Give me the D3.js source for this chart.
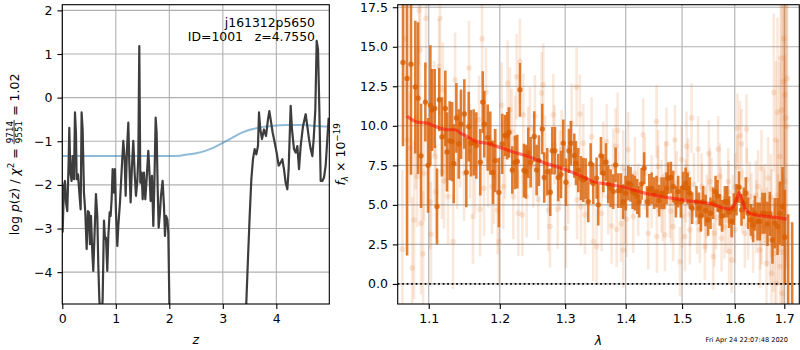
<!DOCTYPE html>
<html>
<head>
<meta charset="utf-8">
<script src="https://cdn.jsdelivr.net/npm/d3@7"></script>
<style>
  body { margin: 0; background: #fff; }
  svg { display: block; font-family: "DejaVu Sans", sans-serif; }
  .pre { white-space: pre; }
</style>
</head>
<body>
<svg id="fig" width="800" height="350"></svg>
<script>
// ---------- redshift probability panel ----------
const zTicks = [0, 1, 2, 3, 4];
const logPTicks = [-4, -3, -2, -1, 0, 1, 2];

// log p(z) from the fit (drops far below the axis between z~2 and z~3.4)
const pzZ = [0.006,0.031,0.050,0.069,0.093,0.118,0.131,0.150,0.174,0.193,0.218,0.237,0.255,0.268,0.293,0.318,0.343,0.361,0.380,0.405,
  0.430,0.455,0.480,0.498,0.517,0.536,0.561,0.579,0.604,0.629,0.654,0.673,0.692,0.710,0.735,0.754,0.779,0.798,0.816,0.841,
  0.860,0.885,0.903,0.922,0.941,0.966,0.984,1.003,1.028,1.047,1.078,1.109,1.140,1.165,1.184,1.209,1.234,1.252,1.277,1.302,
  1.327,1.352,1.377,1.402,1.421,1.439,1.458,1.483,1.502,1.526,1.551,1.576,1.607,1.626,1.651,1.676,1.701,1.720,1.745,1.763,
  1.782,1.801,1.826,1.844,1.875,1.900,1.919,1.938,1.963,1.981,2.000,2.006,
  3.421,3.439,3.470,3.502,3.533,3.564,3.595,3.626,3.657,3.676,3.701,3.732,3.769,3.807,3.844,3.869,3.894,3.931,3.969,4.006,
  4.044,4.081,4.112,4.143,4.174,4.206,4.230,4.268,4.293,4.330,4.361,4.393,4.424,4.455,4.499,4.548,4.579,4.611,4.642,4.673,
  4.698,4.729,4.754,4.779,4.804,4.829,4.860,4.891,4.922,4.953,4.978];
const pzLog = [-3.09,-2.02,-1.91,-2.40,-2.60,-1.49,-0.69,-1.72,-1.91,-1.34,-1.87,-0.34,-0.80,-1.87,-1.76,-2.18,-2.56,-0.34,-0.73,-2.18,
  -2.63,-3.47,-2.60,-2.63,-3.36,-2.71,-3.55,-3.97,-3.09,-2.21,-2.71,-3.85,-4.62,-4.92,-5.08,-4.62,-2.82,-3.24,-3.21,-3.97,
  -3.17,-2.63,-2.71,-2.33,-1.64,-2.18,-1.64,-2.63,-3.40,-2.94,-2.40,-1.68,-0.99,-1.41,-2.25,-1.18,-0.57,-1.49,-2.40,-1.56,
  -0.99,-1.72,-2.25,-1.91,-1.34,1.18,-1.95,-1.72,-2.33,-1.72,-2.33,-1.87,-1.22,-1.64,-2.37,-1.79,-2.94,-2.02,-0.46,-0.80,
  -2.06,-2.98,-2.63,-2.25,-1.91,-2.48,-3.17,-2.71,-2.79,-3.09,-4.62,-6.10,
  -6.10,-4.69,-3.70,-2.71,-1.87,-1.41,-1.18,-1.30,-1.11,-0.34,-0.73,-0.95,-0.73,-0.88,-0.50,-0.31,-0.50,-0.80,-1.03,-1.26,
  -1.56,-1.49,-1.41,-1.64,-1.95,-2.10,-1.64,-0.19,-0.73,-1.18,-1.26,-1.11,-1.64,-1.11,-0.65,-0.38,-0.65,-0.95,-1.18,-1.34,
  -0.95,-0.27,1.30,1.11,-0.27,-1.91,-1.91,-1.83,-1.56,-0.95,-0.46];

// prior curve
const priorZ = [0,0.5,1.0,1.5,2.0,2.2,2.36,2.52,2.67,2.82,2.98,3.13,3.29,3.45,3.60,3.75,3.91,4.22,4.5,4.75,4.99];
const priorLog = [-1.34,-1.34,-1.34,-1.34,-1.34,-1.33,-1.30,-1.27,-1.22,-1.15,-1.05,-0.95,-0.84,-0.76,-0.71,-0.67,-0.65,-0.63,-0.63,-0.65,-0.67];

// ---------- spectrum panel ----------
const waveTicks = [1.1, 1.2, 1.3, 1.4, 1.5, 1.6, 1.7];
const fluxTicks = [0, 2.5, 5, 7.5, 10, 12.5, 15, 17.5];

// binned spectrum
const binWave = [1.0659,1.0712,1.0764,1.0821,1.0857,1.0897,1.0955,1.0991,1.1022,1.1045,1.1081,1.1112,1.1143,1.1180,1.1226,1.1249,1.1286,1.1319,1.1342,1.1379,
  1.1412,1.1444,1.1490,1.1518,1.1552,1.1584,1.1623,1.1660,1.1717,1.1752,1.1775,1.1824,1.1861,1.1900,1.1934,
  1.1987,1.2036,1.2076,1.2110,1.2135,1.2185,1.2225,1.2260,1.2300,1.2360,1.2390,1.2425,1.2462,1.2517,1.2553,1.2589,1.2640,1.2671,1.2718,1.2765,
  1.2796,1.2838,1.2890,1.2933,1.2970,1.3012,1.3060,1.3092,1.3146,1.3173,1.3210,1.3253,1.3291,1.3330,1.3372,1.3412,1.3454,
  1.3510,1.3537,1.3582,1.3621,1.3665,1.3704,1.3744,1.3788,1.3828,1.3873,1.3918,1.3957,1.3998,1.4043,1.4084,1.4119,1.4159,1.4198,1.4233,1.4275,
  1.4320,1.4373,1.4409,1.4451,1.4497,1.4539,1.4586,1.4628,1.4675,1.4718,1.4747,1.4796,1.4838,1.4887,1.4929,1.4978,1.5020,1.5065,1.5102,1.5144,1.5187,
  1.5267,1.5311,1.5349,1.5393,1.5438,1.5487,1.5532,1.5582,1.5628,1.5666,1.5710,1.5755,1.5807,1.5852,1.5891,1.5937,1.5982,1.6034,1.6085,1.6132,
  1.6178,1.6218,1.6264,1.6318,1.6363,1.6398,1.6452,1.6498,1.6553,1.6600,1.6654,1.6701,1.6756,1.6804,1.6860,1.6907,1.6963,1.7011,1.7080,1.7164];
const binFlux = [14.0,13.0,13.9,12.45,11.75,8.1,11.5,7.5,11.3,11.0,11.1,4.9,11.65,9.3,11.1,8.35,9.05,9.0,7.6,10.5,
  8.85,10.1,10.75,7.05,9.95,8.9,8.95,8.75,7.7,11.5,10.1,9.25,8.9,7.05,7.8,
  5.78,8.86,9.39,9.37,9.58,7.2,7.68,7.74,12.28,7.17,7.1,8.3,7.7,9.32,7.2,7.8,9.8,6.73,7.1,5.8,
  8.42,8.42,6.73,6.92,8.9,6.43,8.42,8.9,8.12,7.64,7.2,6.69,6.58,6.65,5.2,7.6,6.35,
  6.69,5.0,8.1,7.0,7.7,6.3,6.05,5.84,7.53,5.9,5.9,5.2,5.74,6.37,6.3,5.84,5.74,5.53,5.2,6.33,
  7.32,5.2,5.95,6.05,5.74,5.84,5.27,5.74,5.74,6.05,6.69,6.73,6.16,5.2,5.84,5.2,6.1,6.37,6.05,5.74,4.79,
  5.2,4.79,4.32,5.2,4.64,4.05,4.47,5.1,5.84,5.57,4.68,4.3,5.2,5.2,4.54,3.95,4.73,5.32,6.12,4.68,
  5.1,5.74,4.47,4.05,3.73,4.47,3.95,3.95,4.47,4.47,3.8,4.43,2.78,3.84,3.63,4.47,4.9,2.95,-1.6,-1.6];
const binErr = [5.3,11.2,7.0,4.2,4.8,3.3,2.5,3.0,3.8,2.6,2.5,2.4,2.0,2.5,2.4,2.5,2.5,2.5,2.5,2.2,
  2.2,2.2,2.2,2.2,2.2,2.1,2.1,2.1,2.1,1.95,2.1,2.1,2.0,2.0,2.0,
  2.2,1.9,1.3,1.5,1.6,1.5,1.7,1.7,1.7,1.7,1.7,1.6,1.6,1.6,1.6,1.6,1.6,1.6,1.5,1.5,
  1.5,1.5,1.5,1.5,1.5,1.5,1.4,1.4,1.4,1.4,1.4,1.4,1.4,1.3,1.3,1.3,1.3,
  1.3,1.3,1.2,1.2,1.2,1.2,1.2,1.1,1.1,1.1,1.1,1.1,1.1,1.1,1.1,1.1,1.1,1.1,1.0,1.0,
  1.0,1.0,1.0,1.0,1.0,1.0,1.0,1.0,1.0,1.0,1.0,1.0,1.0,1.0,1.0,1.0,1.0,1.0,1.0,1.0,1.0,
  1.0,1.0,1.0,1.0,1.0,1.0,1.0,1.0,1.0,1.0,1.0,1.0,1.0,1.0,1.0,1.0,1.0,1.0,1.0,1.0,
  1.0,1.0,1.0,1.0,1.1,1.1,1.2,1.2,1.3,1.3,1.4,1.4,1.5,1.6,1.8,2.0,2.5,3.0,6.0,5.5];

// individual exposure spectra
const beamWave = [1.0871,1.0964,1.1153,1.0884,1.1140,1.1556,1.1742,1.1799,1.0804,1.0897,1.0924,1.1031,1.1333,1.1263,1.1180,1.1099,1.1613,1.1713,1.1699,1.1430,
  1.1361,1.1222,1.1018,1.0844,1.0751,1.0712,1.0937,1.1085,1.1486,1.1208,1.1389,1.1570,1.1641,1.1770,1.1886,1.1915,1.1828,1.1190,1.1072,1.0650,
  1.0690,1.0780,1.0830,
  1.2300,1.2250,1.2116,1.2027,1.2150,1.2631,1.2656,1.3183,1.2812,1.3237,1.3103,1.3291,1.3428,1.2451,1.2350,1.2527,1.2175,1.2076,1.2051,1.2200,
  1.2275,1.2401,1.2335,1.2578,1.2734,1.2760,1.2881,1.3012,1.3190,1.3253,1.3318,1.3454,1.1987,1.1968,1.2502,1.2917,1.2682,1.2225,1.2425,1.2830,
  1.3049,1.2944,
  1.4539,1.5175,1.3862,1.4303,1.4718,1.4869,1.5083,1.3828,1.3677,1.4043,1.3510,1.3760,1.3845,1.3918,1.4015,1.4129,1.4391,1.4545,1.4688,1.4838,
  1.4960,1.5052,1.5144,1.4778,1.4628,1.4451,1.4216,1.3987,1.3704,1.3593,1.4332,1.4159,1.3957,1.4568,1.4991,1.5113,1.3788,1.3621,1.3960,
  1.5298,1.5500,1.5677,1.6052,1.6232,1.6099,1.6132,1.6532,1.6666,1.6783,1.6860,1.6928,1.6976,1.7011,1.7046,1.6942,1.6825,1.6907,1.5937,1.5891,
  1.5743,1.5582,1.5424,1.5330,1.6198,1.6363,1.6498,1.6634,1.6735,1.6839,1.6912,1.6955,1.6804,1.6701,1.6532,1.6431,1.6264,1.6002,1.5840,1.5605,
  1.5443,1.6464,1.6298,1.6008,1.5872,1.5710,1.5519,1.5362,1.6600,1.6735,1.6874,
  1.4560,1.4650,1.4700,1.4800,1.4900,1.5000,1.5070,1.5150,1.5220,1.5280,1.5370,1.5460,1.5550,1.5640,1.5730,1.5800,1.5880,1.5960,1.6050,1.6150,
  1.6240,1.6330,1.6420,1.6510,1.6580,1.6640,1.6720,1.6770,1.6860,1.6960,1.7010,1.7060,1.6990,1.7030];
const beamFlux = [17.3,16.8,16.8,14.8,13.75,13.65,15.5,12.1,4.05,3.84,1.9,3.14,2.68,5.53,7.1,5.84,4.26,4.73,10.38,9.1,
  12.9,9.43,5.2,6.8,8.6,9.1,7.0,8.06,7.0,6.5,7.74,8.4,7.4,6.05,6.16,6.8,7.85,12.28,11.1,2.2,
  15.5,1.0,10.5,
  14.07,13.1,12.7,11.3,11.0,12.07,12.6,12.45,10.7,10.74,10.17,8.9,9.3,9.85,10.7,10.6,9.64,8.06,6.16,5.53,
  4.47,5.53,4.37,5.36,4.68,3.63,4.73,3.52,5.32,4.9,4.37,2.68,2.68,4.68,7.43,7.2,8.06,9.2,8.6,8.8,
  6.27,8.5,
  10.27,10.5,9.7,9.43,8.86,9.1,8.7,8.7,9.0,8.48,2.36,3.67,3.46,3.8,4.1,4.26,3.2,3.0,3.1,3.63,
  1.41,3.0,3.42,5.2,5.53,5.84,5.32,4.9,5.53,4.47,7.0,7.0,7.32,7.43,7.85,7.0,7.43,7.85,2.15,
  8.52,8.23,8.52,9.85,9.8,9.37,8.86,7.32,6.69,12.1,10.85,14.28,12.8,11.96,9.96,11.0,9.1,8.06,1.52,2.05,
  2.89,1.73,2.36,3.42,3.2,3.0,2.15,1.31,0.68,0.04,1.1,-0.6,1.94,2.78,3.63,4.26,3.73,3.42,4.05,3.2,
  4.05,6.16,5.53,6.16,6.48,6.8,6.48,6.16,5.1,4.47,3.42,
  6.6,4.8,6.9,4.6,6.4,4.3,5.9,4.4,6.3,3.9,5.6,4.9,6.0,4.2,5.4,3.6,5.8,4.9,7.4,5.2,
  6.6,4.9,5.6,3.2,4.8,3.6,5.5,2.5,5.6,2.0,6.5,13.0,15.5,10.5];
const beamErr = [3.5,3.2,3.0,3.5,3.0,3.0,3.0,2.8,5.0,4.5,4.0,3.3,3.0,3.0,3.0,3.0,3.0,3.0,2.8,3.0,
  3.0,3.0,3.0,3.2,3.5,4.0,3.0,3.0,3.0,3.0,3.0,3.0,3.0,3.0,3.0,3.0,3.0,3.0,3.0,5.0,
  5.0,4.5,4.5,
  2.7,2.7,2.7,2.7,2.7,2.6,2.6,2.5,2.6,2.5,2.5,2.5,2.5,2.6,2.6,2.6,2.7,2.7,2.7,2.7,
  2.7,2.6,2.6,2.6,2.6,2.6,2.5,2.5,2.5,2.5,2.5,2.5,2.8,2.8,2.6,2.5,2.6,2.7,2.6,2.5,
  2.5,2.5,
  2.3,2.2,2.4,2.3,2.3,2.2,2.2,2.4,2.4,2.4,2.4,2.4,2.4,2.4,2.4,2.3,2.3,2.3,2.3,2.2,
  2.2,2.2,2.2,2.3,2.3,2.3,2.3,2.4,2.4,2.4,2.3,2.3,2.4,2.3,2.2,2.2,2.4,2.4,2.4,
  2.1,2.1,2.1,2.2,2.2,2.2,2.2,2.4,2.6,5.0,6.0,8.0,9.0,9.0,9.0,8.0,5.0,6.0,2.1,2.1,
  2.1,2.1,2.1,2.1,2.2,2.3,2.4,2.6,3.0,3.5,4.5,5.0,3.2,2.8,2.4,2.3,2.2,2.1,2.1,2.1,
  2.1,2.3,2.2,2.1,2.1,2.1,2.1,2.1,2.5,2.8,3.5,
  2.1,2.1,2.1,2.0,2.0,2.0,2.0,2.0,2.0,2.0,2.0,2.0,2.0,2.0,2.0,2.0,2.0,2.0,2.0,2.0,
  2.0,2.1,2.2,2.3,2.4,2.5,2.7,3.0,3.5,5.0,8.0,9.0,8.0,9.0];

// best-fit template
const modelWave = [1.0712,1.0844,1.0977,1.1067,1.1157,1.1249,1.1363,1.1434,1.1528,1.1670,1.1814,1.1958,1.2175,1.2425,1.2682,1.2944,1.3210,1.3482,
  1.3760,1.4043,1.4332,1.4628,1.4929,1.5237,1.5494,1.5743,1.5904,1.5969,1.6034,1.6085,1.6132,1.6198,1.6298,1.6398,1.6666,1.6942,1.7046];
const modelFlux = [10.6,10.23,10.17,10.0,9.85,9.75,9.75,9.54,9.32,9.0,8.9,8.7,8.38,8.06,7.64,7.32,6.9,6.45,
  6.27,6.05,5.74,5.53,5.36,5.2,5.1,4.85,4.73,4.9,5.32,5.78,5.42,4.79,4.47,4.37,4.26,4.16,4.1];

// ---------- layout ----------
const svg = d3.select("#fig");
const FS = 12.5;
const gridColor = "#b0b0b0";
const orange = "#d95f02";
const LP = {x0: 62.3, x1: 329.3, y0: 4.7, y1: 304};
const RP = {x0: 397.7, x1: 799.3, y0: 4.7, y1: 304};

const zScale = d3.scaleLinear().domain([0, 4.99]).range([LP.x0, LP.x1]);
const pScale = d3.scaleLinear().domain([-4.73, 2.13]).range([LP.y1, LP.y0]);
const wScale = d3.scaleLog().domain([1.059, 1.7315]).range([RP.x0, RP.x1]);
const fScale = d3.scaleLinear().domain([-1.27, 17.66]).range([RP.y1, RP.y0]);

const defs = svg.append("defs");
function clip(id, P) {
  defs.append("clipPath").attr("id", id).append("rect")
    .attr("x", P.x0).attr("y", P.y0).attr("width", P.x1 - P.x0).attr("height", P.y1 - P.y0);
}
clip("clipL", LP);
clip("clipR", RP);

function grid(P, xs, xScale, ys, yScale) {
  const g = svg.append("g").attr("stroke", gridColor).attr("stroke-width", 1.1);
  xs.forEach(v => g.append("line").attr("x1", xScale(v)).attr("x2", xScale(v)).attr("y1", P.y0).attr("y2", P.y1));
  ys.forEach(v => g.append("line").attr("y1", yScale(v)).attr("y2", yScale(v)).attr("x1", P.x0).attr("x2", P.x1));
}

function axes(P, xScale, xs, xFmt, yScale, ys, yFmt) {
  const gx = svg.append("g").attr("transform", `translate(0,${P.y1})`)
    .call(d3.axisBottom(xScale).tickValues(xs).tickFormat(xFmt).tickSize(4.9).tickPadding(4.9));
  const gy = svg.append("g").attr("transform", `translate(${P.x0},0)`)
    .call(d3.axisLeft(yScale).tickValues(ys).tickFormat(yFmt).tickSize(4.9).tickPadding(4.9));
  [gx, gy].forEach(g => {
    g.select(".domain").remove();
    g.selectAll(".tick line").attr("stroke", "#000").attr("stroke-width", 1.1);
    g.selectAll(".tick text").attr("font-size", FS).attr("font-family", "DejaVu Sans").attr("fill", "#000");
  });
  svg.append("rect").attr("x", P.x0).attr("y", P.y0).attr("width", P.x1 - P.x0).attr("height", P.y1 - P.y0)
    .attr("fill", "none").attr("stroke", "#000").attr("stroke-width", 1.1);
}

// ----- left panel -----
grid(LP, zTicks, zScale, logPTicks, pScale);
const gl = svg.append("g").attr("clip-path", "url(#clipL)");
gl.append("path")
  .attr("d", d3.line().x((d, i) => zScale(priorZ[i])).y(d => pScale(d)).curve(d3.curveMonotoneX)(priorLog))
  .attr("fill", "none").attr("stroke", "#1f77b4").attr("stroke-opacity", 0.5).attr("stroke-width", 2);
gl.append("path")
  .attr("d", d3.line().x((d, i) => zScale(pzZ[i])).y(d => pScale(d))(pzLog))
  .attr("fill", "none").attr("stroke", "#3d3d3d").attr("stroke-width", 2.2).attr("stroke-linejoin", "round");
axes(LP, zScale, zTicks, d3.format("d"), pScale, logPTicks, d3.format("d"));

svg.append("text").attr("x", 315).attr("y", 26.7).attr("text-anchor", "end").attr("font-size", 12.4)
  .text("j161312p5650");
svg.append("text").attr("class", "pre").attr("x", 315).attr("y", 40.7).attr("text-anchor", "end").attr("font-size", 12.4)
  .text("ID=1001   z=4.7550");

// x label
svg.append("text").attr("x", (LP.x0 + LP.x1) / 2).attr("y", 343.5).attr("text-anchor", "middle")
  .attr("font-size", FS).attr("font-style", "italic").text("z");

// y label: log p(z) / chi^2 = frac = value
(function () {
  const g = svg.append("g").attr("transform", `translate(18.5,${(LP.y0 + LP.y1) / 2}) rotate(-90)`);
  const t1 = g.append("text").attr("class", "pre").attr("font-size", FS);
  t1.append("tspan").text("log ");
  t1.append("tspan").attr("font-style", "italic").text("p");
  t1.append("tspan").text("(");
  t1.append("tspan").attr("font-style", "italic").text("z");
  t1.append("tspan").text(") / ");
  t1.append("tspan").attr("font-style", "italic").text("χ");
  t1.append("tspan").attr("font-size", 8.8).attr("dy", -5).text("2");
  t1.append("tspan").attr("dy", 5).text(" = ");
  const num = g.append("text").attr("font-size", 8.8).attr("text-anchor", "middle").text("9714");
  const den = g.append("text").attr("font-size", 8.8).attr("text-anchor", "middle").text("9551");
  const t3 = g.append("text").attr("class", "pre").attr("font-size", FS).text(" = 1.02");
  const L1 = t1.node().getComputedTextLength();
  const fw = Math.max(num.node().getComputedTextLength(), den.node().getComputedTextLength()) + 2;
  const L3 = t3.node().getComputedTextLength();
  const x0 = -(L1 + fw + L3) / 2;
  t1.attr("x", x0).attr("y", 0);
  const cx = x0 + L1 + fw / 2;
  num.attr("x", cx).attr("y", -5.8);
  den.attr("x", cx).attr("y", 3.0);
  g.append("line").attr("x1", cx - fw / 2).attr("x2", cx + fw / 2).attr("y1", -4.4).attr("y2", -4.4)
    .attr("stroke", "#000").attr("stroke-width", 0.8);
  t3.attr("x", x0 + L1 + fw).attr("y", 0);
})();

// ----- right panel -----
grid(RP, waveTicks, wScale, fluxTicks, fScale);
const gr = svg.append("g").attr("clip-path", "url(#clipR)");

const beams = beamWave.map((w, i) => ({w, f: beamFlux[i], e: beamErr[i]}));
const bins = binWave.map((w, i) => ({w, f: binFlux[i], e: binErr[i]}));

gr.append("g").selectAll("line").data(beams).join("line")
  .attr("x1", d => wScale(d.w)).attr("x2", d => wScale(d.w))
  .attr("y1", d => fScale(d.f - d.e)).attr("y2", d => fScale(d.f + d.e))
  .attr("stroke", orange).attr("stroke-opacity", 0.14).attr("stroke-width", 2.6);
gr.append("g").selectAll("circle").data(beams).join("circle")
  .attr("cx", d => wScale(d.w)).attr("cy", d => fScale(d.f)).attr("r", 2.8)
  .attr("fill", orange).attr("fill-opacity", 0.14);

gr.append("g").selectAll("line").data(bins).join("line")
  .attr("x1", d => wScale(d.w)).attr("x2", d => wScale(d.w))
  .attr("y1", d => fScale(d.f - d.e)).attr("y2", d => fScale(d.f + d.e))
  .attr("stroke", orange).attr("stroke-opacity", 0.8).attr("stroke-width", 2.6);
gr.append("g").selectAll("circle").data(bins).join("circle")
  .attr("cx", d => wScale(d.w)).attr("cy", d => fScale(d.f)).attr("r", 2.7)
  .attr("fill", orange).attr("fill-opacity", 0.8);

gr.append("path")
  .attr("d", d3.line().x((d, i) => wScale(modelWave[i])).y(d => fScale(d)).curve(d3.curveMonotoneX)(modelFlux))
  .attr("fill", "none").attr("stroke", "#ff0000").attr("stroke-opacity", 0.5).attr("stroke-width", 3.2)
  .attr("stroke-linejoin", "round");

gr.append("line").attr("x1", RP.x0).attr("x2", RP.x1).attr("y1", fScale(0)).attr("y2", fScale(0))
  .attr("stroke", "#000").attr("stroke-width", 1.7).attr("stroke-dasharray", "1.7 2.8");

axes(RP, wScale, waveTicks, d3.format(".1f"), fScale, fluxTicks, d3.format(".1f"));

svg.append("text").attr("x", (RP.x0 + RP.x1) / 2).attr("y", 344.5).attr("text-anchor", "middle")
  .attr("font-size", FS).attr("font-style", "italic").text("λ");

(function () {
  const t = svg.append("text").attr("class", "pre").attr("font-size", FS).attr("text-anchor", "middle")
    .attr("transform", `translate(345,${(RP.y0 + RP.y1) / 2}) rotate(-90)`);
  t.append("tspan").attr("font-style", "italic").text("f");
  t.append("tspan").attr("font-style", "italic").attr("font-size", 8.8).attr("dy", 2.5).text("λ");
  t.append("tspan").attr("dy", -2.5).text(" × 10");
  t.append("tspan").attr("font-size", 8.8).attr("dy", -5).text("−19");
})();

svg.append("text").attr("x", 788).attr("y", 341.5).attr("text-anchor", "end").attr("font-size", 6.6)
  .text("Fri Apr 24 22:07:48 2020");
</script>
</body>
</html>
